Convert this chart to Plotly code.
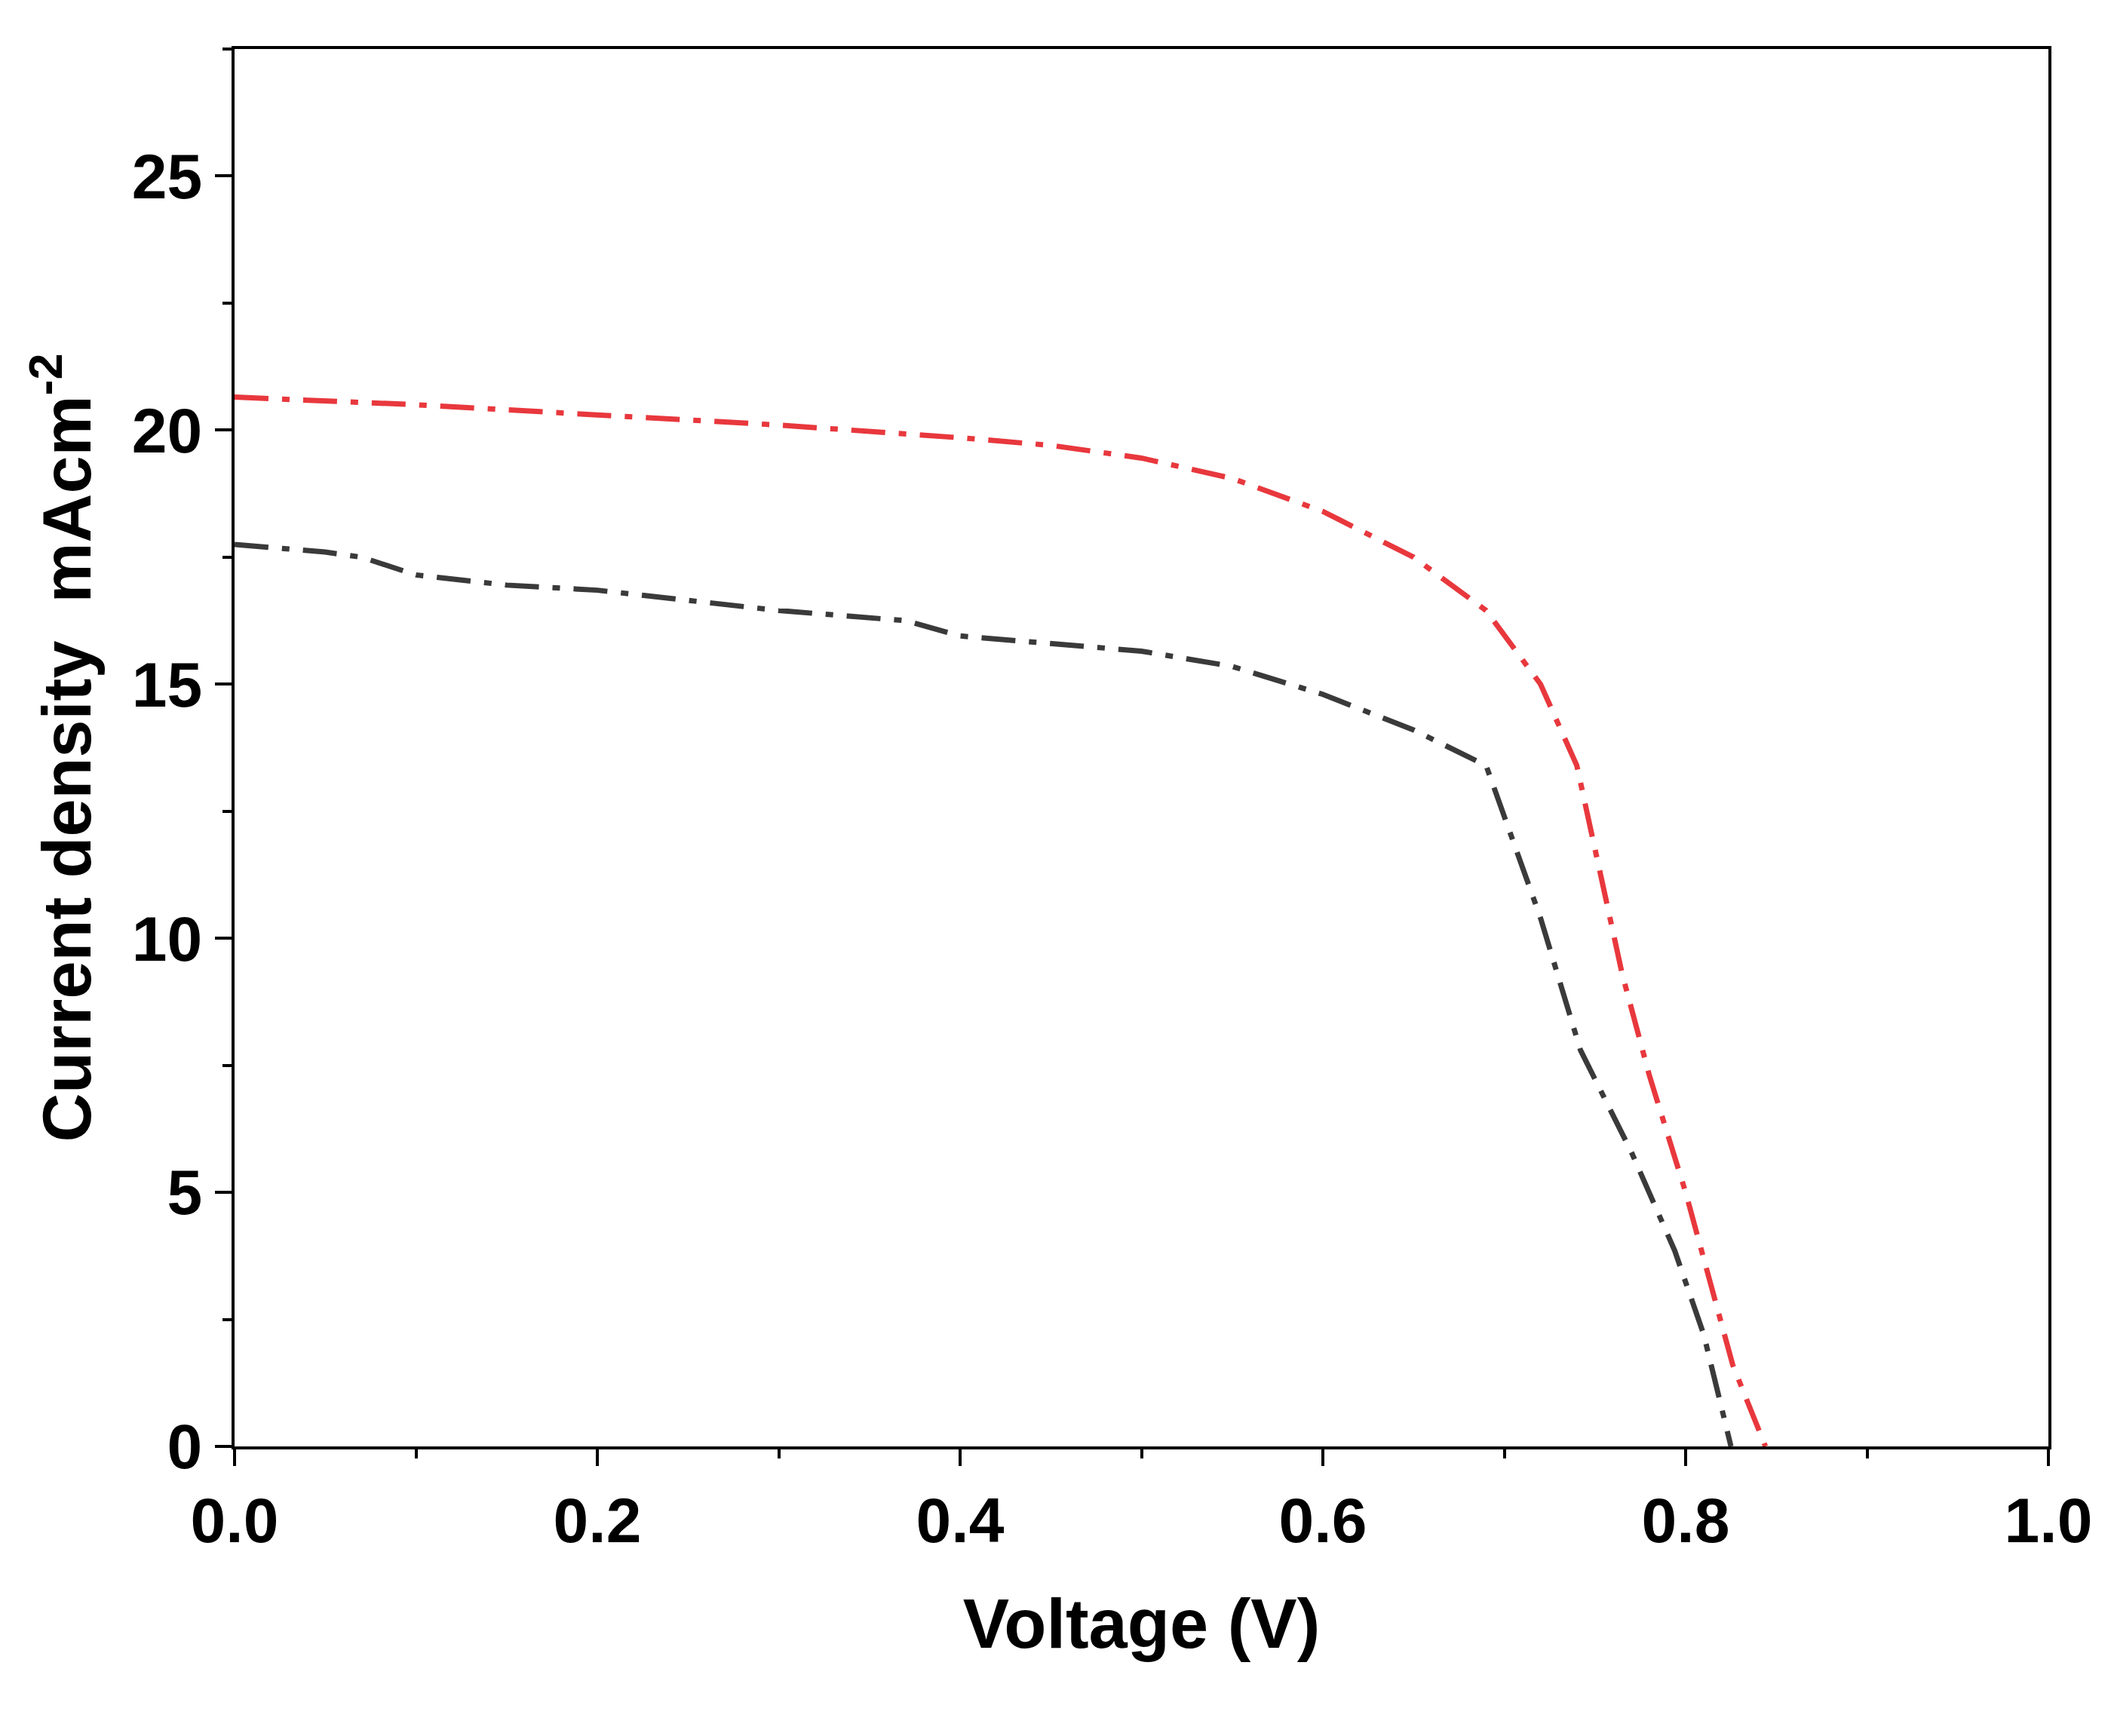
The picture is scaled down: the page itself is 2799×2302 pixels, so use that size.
import plotly.graph_objects as go

v_red = [0, 0.1, 0.2, 0.3, 0.4, 0.45, 0.5, 0.55, 0.6, 0.65, 0.69, 0.72, 0.74, 0.765, 0.78, 0.8, 0.826, 0.835, 0.844]
j_red = [20.65, 20.5, 20.3, 20.1, 19.85, 19.7, 19.45, 19.05, 18.4, 17.5, 16.45, 15.0, 13.4, 9.3, 7.3, 5.0, 1.6, 0.8, 0]
v_blk = [0, 0.05, 0.07, 0.1, 0.15, 0.2, 0.3, 0.37, 0.4, 0.45, 0.5, 0.55, 0.6, 0.65, 0.69, 0.702, 0.72, 0.742, 0.77, 0.794, 0.81, 0.825]
j_blk = [17.75, 17.6, 17.5, 17.15, 16.95, 16.85, 16.45, 16.25, 15.95, 15.8, 15.65, 15.35, 14.8, 14.1, 13.4, 12.2, 10.4, 7.8, 5.8, 3.85, 2.2, 0]

dash = '45px,18px,10px,18px'

fig = go.Figure()
fig.add_trace(go.Scatter(x=v_blk, y=j_blk, mode='lines',
                         line=dict(color='#3a3a3a', width=7, dash=dash)))
fig.add_trace(go.Scatter(x=v_red, y=j_red, mode='lines',
                         line=dict(color='#e8383d', width=7, dash=dash)))

axis_common = dict(showline=True, linecolor='black', linewidth=4, mirror=True,
                   ticks='outside', ticklen=22, tickwidth=4, tickcolor='black',
                   showgrid=False, zeroline=False,
                   tickfont=dict(family='Liberation Sans', size=84, color='black', weight='bold'),
                   minor=dict(ticks='outside', ticklen=12, tickwidth=4, tickcolor='black'))

fig.update_xaxes(range=[0, 1.0], dtick=0.2, tickformat='.1f',
                 minor_dtick=0.1,
                 title=dict(text='Voltage (V)', standoff=60,
                            font=dict(family='Liberation Sans', size=92, color='black', weight='bold')),
                 **axis_common)
fig.update_yaxes(range=[0, 27.5], dtick=5, minor_dtick=2.5,
                 title=dict(text='Current density  mAcm<sup>-2</sup>', standoff=25,
                            font=dict(family='Liberation Sans', size=90, color='black', weight='bold')),
                 **axis_common)

fig.update_layout(width=2799, height=2302, showlegend=False,
                  plot_bgcolor='white', paper_bgcolor='white',
                  margin=dict(l=303, r=91, t=57, b=392))

fig.write_html("out.html")
